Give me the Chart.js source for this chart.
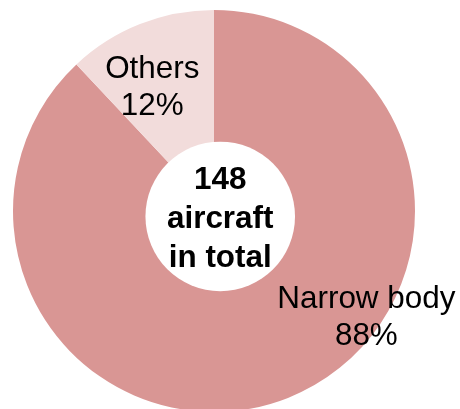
<!DOCTYPE html>
<html>
<head>
<meta charset="utf-8">
<script src="https://cdn.jsdelivr.net/npm/chart.js@4"></script>
<style>
  html, body { margin: 0; padding: 0; overflow: hidden; background: #fff; }
</style>
</head>
<body>
<canvas id="fleetChart" width="460" height="420"></canvas>
<script>
// Fleet split
const categories = ['Narrow body', 'Others'];
const shares = [88, 12];
const centerLines = ['148', 'aircraft', 'in total'];

const sliceColors = ['#D99694', '#F2DCDB'];
const FONT = '"Liberation Sans", Arial, sans-serif';

// label anchor offsets, as a fraction of the outer radius
const labelOffsets = [
    { dx: 0.758, dy: 0.577 },
    { dx: -0.307, dy: -0.570 }
];

// Draws the (slightly off-centre) hole, the centre text and the slice labels
const doughnutText = {
    id: 'doughnutText',
    afterDatasetsDraw(chart) {
        const ctx = chart.ctx;
        const arcs = chart.getDatasetMeta(0).data;
        const cx = arcs[0].x, cy = arcs[0].y, r = arcs[0].outerRadius;

        // hole
        const hx = cx + 0.031 * r, hy = cy + 0.027 * r;
        ctx.save();
        ctx.fillStyle = '#ffffff';
        ctx.beginPath();
        ctx.arc(hx, hy, 0.372 * r, 0, Math.PI * 2);
        ctx.fill();

        // text is drawn a touch wider than tall, like the original
        const stretch = 1.03;
        const text = (str, x, y) => {
            ctx.save();
            ctx.translate(x, y);
            ctx.scale(stretch, 1);
            ctx.fillText(str, 0, 0);
            ctx.restore();
        };

        // centre text
        ctx.fillStyle = '#000';
        ctx.textAlign = 'center';
        ctx.textBaseline = 'alphabetic';
        ctx.font = 'bold 30.5px ' + FONT;
        centerLines.forEach((line, i) => {
            text(line, hx, hy + 11.6 + (i - 1) * 39);
        });

        // slice labels
        ctx.font = '30.5px ' + FONT;
        categories.forEach((cat, i) => {
            const ax = cx + labelOffsets[i].dx * r;
            const ay = cy + labelOffsets[i].dy * r;
            text(cat, ax, ay - 18.5);
            text(shares[i] + '%', ax, ay + 18.5);
        });
        ctx.restore();
    }
};

new Chart(document.getElementById('fleetChart'), {
    type: 'pie',
    data: {
        labels: categories,
        datasets: [{
            data: shares,
            backgroundColor: sliceColors,
            borderWidth: 0
        }]
    },
    options: {
        responsive: false,
        animation: false,
        layout: {
            padding: { top: 10, bottom: 8, left: 13, right: 45 }
        },
        plugins: {
            legend: { display: false },
            tooltip: { enabled: false }
        }
    },
    plugins: [doughnutText]
});
</script>
</body>
</html>
